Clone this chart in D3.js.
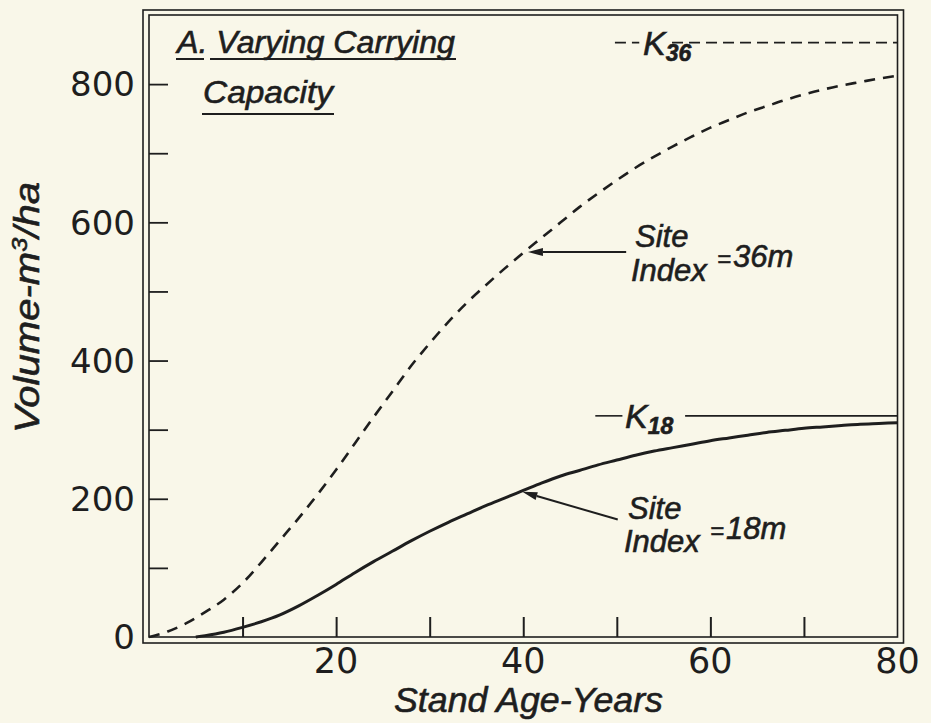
<!DOCTYPE html>
<html>
<head>
<meta charset="utf-8">
<script src="https://cdn.jsdelivr.net/npm/d3@7/dist/d3.min.js"></script>
<style>
  html, body { margin: 0; padding: 0; background: #f9f7e9; }
  svg { display: block; }
</style>
</head>
<body>
<svg id="chart" width="931" height="723"></svg>
<script>
// Stand volume over age for two site indices (logistic-type growth curves)
const agesSI36 = [0,2,4,6,8,10,12,14,16,18,20,22,24,26,28,30,32,34,36,38,40,
                  42,44,46,48,50,52,54,56,58,60,62,64,66,68,70,72,74,76,78,80];
const volumeSI36 = [0,8,20,36,54,78,108,140,172,206,242,280,318,355,392,425,456,484,509,533,556,
                    578,600,622,642,661,679,695,710,724,737,748,759,768,777,785,792,798,803,808,812];

const agesSI18 = [5,6,8,10,12,14,16,18,20,22,24,26,28,30,32,34,36,38,40,
                  42,44,46,48,50,52,54,56,58,60,62,64,66,68,70,72,74,76,78,80];
const volumeSI18 = [0,2,7,14,22,32,45,60,76,93,109,124,139,153,166,178,190,201,212,
                    223,233,241,249,256,263,269,274,279,284,288,292,296,299,302,304,306,308,309,310];

// Carrying capacities (asymptotes)
const capacityLabels = ["36", "18"];
const capacityValues = [860, 320];

const xTickValues = [10, 20, 30, 40, 50, 60, 70];
const xTickLabels = [20, 40, 60, 80];
const yTickValues = [100, 200, 300, 400, 500, 600, 700, 800];
const yTickLabels = [0, 200, 400, 600, 800];

const ink = "#1e1e1e";
const numFont = "'DejaVu Sans', sans-serif";
const letterFont = "'Liberation Sans', Arial, sans-serif";

const svg = d3.select("#chart");

const x = d3.scaleLinear().domain([0, 80]).range([149, 897.5]);
const y = d3.scaleLinear().domain([0, 900]).range([637, 15]);

// Hand-lettered look: italic with a slight outline to thicken strokes
function lettering(sel, size) {
  return sel.attr("font-family", letterFont).attr("font-style", "italic")
    .attr("font-size", size).attr("fill", ink)
    .attr("stroke", ink).attr("stroke-width", 0.6);
}

// Double-ruled frame
const frame = svg.append("g").attr("fill", "none").attr("stroke", ink);
frame.append("rect")
  .attr("x", x(0)).attr("y", y(900))
  .attr("width", x(80) - x(0)).attr("height", y(0) - y(900))
  .attr("stroke-width", 1.6);
frame.append("rect")
  .attr("x", x(0) - 6).attr("y", y(900) - 5)
  .attr("width", x(80) - x(0) + 12).attr("height", y(0) - y(900) + 11)
  .attr("stroke-width", 1.6);

// Inward ticks
const yAxis = d3.axisRight(y).tickValues(yTickValues).tickSize(19).tickFormat("");
svg.append("g").attr("transform", `translate(${x(0)},0)`).call(yAxis)
  .call(g => g.select(".domain").remove())
  .call(g => g.selectAll("line").attr("stroke", ink).attr("stroke-width", 1.8));

const xAxis = d3.axisTop(x).tickValues(xTickValues).tickSize(20).tickFormat("");
svg.append("g").attr("transform", `translate(0,${y(0)})`).call(xAxis)
  .call(g => g.select(".domain").remove())
  .call(g => g.selectAll("line").attr("stroke", ink).attr("stroke-width", 2));

// Tick labels
svg.append("g").selectAll("text").data(yTickLabels).join("text")
  .attr("x", 135).attr("y", d => y(d))
  .attr("dy", "0.36em")
  .attr("text-anchor", "end")
  .attr("font-family", numFont).attr("font-size", 34)
  .attr("fill", ink)
  .text(d => d);

svg.append("g").selectAll("text").data(xTickLabels).join("text")
  .attr("x", d => x(d)).attr("y", 673)
  .attr("text-anchor", "middle")
  .attr("font-family", numFont).attr("font-size", 35)
  .attr("fill", ink)
  .text(d => d);

// Axis titles
lettering(svg.append("text"), 35)
  .attr("x", 528 - 134).attr("y", 712)
  .attr("textLength", 269).attr("lengthAdjust", "spacingAndGlyphs")
  .text("Stand Age-Years");

const yTitle = lettering(svg.append("text"), 35)
  .attr("transform", "translate(39,433) rotate(-90)")
  .attr("textLength", 251).attr("lengthAdjust", "spacingAndGlyphs");
yTitle.append("tspan").text("Volume-m");
yTitle.append("tspan").attr("dy", -12).attr("font-size", 22).text("3");
yTitle.append("tspan").attr("dy", 12).text("/ha");

// Growth curves
const line = d3.line().x(d => x(d[0])).y(d => y(d[1])).curve(d3.curveMonotoneX);

svg.append("path")
  .datum(agesSI36.map((a, i) => [a, volumeSI36[i]]))
  .attr("d", line)
  .attr("fill", "none").attr("stroke", ink)
  .attr("stroke-width", 2.6).attr("stroke-dasharray", "11,8");

svg.append("path")
  .datum(agesSI18.map((a, i) => [a, volumeSI18[i]]))
  .attr("d", line)
  .attr("fill", "none").attr("stroke", ink)
  .attr("stroke-width", 3);

// Carrying-capacity reference lines with K labels
function capacity(value, sub, leftSeg, rightSeg, dashed, kx) {
  const g = svg.append("g");
  [leftSeg, rightSeg].forEach(s => {
    g.append("line")
      .attr("x1", x(s[0])).attr("x2", x(s[1]))
      .attr("y1", y(value)).attr("y2", y(value))
      .attr("stroke", ink).attr("stroke-width", 1.6)
      .attr("stroke-dasharray", dashed ? "11,6" : null);
  });
  const t = lettering(g.append("text"), 34)
    .attr("x", kx).attr("y", y(value) + 12);
  t.append("tspan").text("K");
  t.append("tspan").attr("dy", 6).attr("font-size", 23).attr("font-weight", "bold").text(sub);
}
capacity(capacityValues[0], capacityLabels[0], [49.8, 52.4], [55.9, 80], true, 643);
capacity(capacityValues[1], capacityLabels[1], [47.7, 50.6], [57.3, 80], false, 625);

// Curve annotations with arrows
function annotate(tip, tail, textX, textY, gap, value) {
  const g = svg.append("g");
  const x1 = x(tail[0]), y1 = y(tail[1]), x2 = x(tip[0]), y2 = y(tip[1]);
  const ang = Math.atan2(y2 - y1, x2 - x1);
  const len = 15, hw = 4;
  const bx = x2 - len * Math.cos(ang), by = y2 - len * Math.sin(ang);
  g.append("line").attr("x1", x1).attr("y1", y1).attr("x2", bx).attr("y2", by)
    .attr("stroke", ink).attr("stroke-width", 2);
  g.append("path")
    .attr("d", `M${x2},${y2}L${bx - hw * Math.sin(ang)},${by + hw * Math.cos(ang)}L${bx + hw * Math.sin(ang)},${by - hw * Math.cos(ang)}Z`)
    .attr("fill", ink);
  const txt = lettering(g.append("g"), 31);
  txt.append("text").attr("x", textX + 4).attr("y", textY).text("Site");
  txt.append("text").attr("x", textX).attr("y", textY + gap).text("Index");
  const eq = txt.append("text").attr("x", textX + 86).attr("y", textY + gap / 2 + 3);
  eq.append("tspan").attr("font-size", 24).text("=");
  eq.append("tspan").attr("dx", 2).text(value);
}
annotate([40.5, 557], [51, 557], 631, 247, 34, "36m");
annotate([39.9, 210], [50.1, 170], 624, 519, 33, "18m");

// Title block
const title = lettering(svg.append("g"), 31);
title.append("text").attr("x", 177).attr("y", 53)
  .attr("textLength", 278).attr("lengthAdjust", "spacingAndGlyphs")
  .text("A. Varying Carrying");
title.append("text").attr("x", 203).attr("y", 103)
  .attr("textLength", 130).attr("lengthAdjust", "spacingAndGlyphs")
  .text("Capacity");
const ul = title.append("g").attr("stroke-width", 2);
ul.append("line").attr("x1", 176).attr("x2", 204).attr("y1", 59).attr("y2", 59);
ul.append("line").attr("x1", 210).attr("x2", 456).attr("y1", 59).attr("y2", 59);
ul.append("line").attr("x1", 202).attr("x2", 334).attr("y1", 114).attr("y2", 114);
</script>
</body>
</html>
